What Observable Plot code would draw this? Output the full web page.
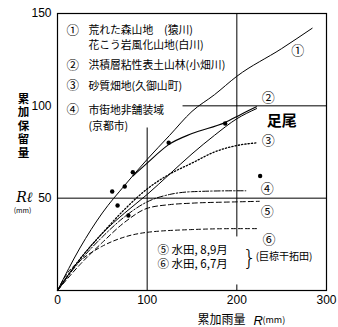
<!DOCTYPE html>
<html>
<head>
<meta charset="utf-8">
<script src="https://cdn.jsdelivr.net/npm/d3@7"></script>
<script src="https://cdn.jsdelivr.net/npm/@observablehq/plot@0.6"></script>
<style>
  html, body { margin: 0; padding: 0; background: white; }
</style>
</head>
<body>
<div id="chart"></div>
<script>
// ---- data ----
const xTicks = [0, 100, 200, 300];
const yTicks = [50, 100, 150];

// ①
const R1 = [0, 25, 50, 75, 100, 125, 150, 175, 200, 250, 284];
const L1 = [0, 23, 42, 57, 71, 84, 97, 106, 116, 131, 142];
// ② (upper, through points)
const R2a = [84, 100, 124, 150, 187, 205, 222];
const L2a = [62, 69, 79, 85, 91, 95.5, 99.5];
// ② (lower solid)
const R2b = [0, 25, 50, 75, 100, 125, 150, 175, 200, 222];
const L2b = [0, 17, 31, 42, 52, 63, 74, 84, 93, 98.5];
// ③ dotted
const R3 = [0, 25, 50, 75, 100, 125, 150, 175, 200, 223];
const L3 = [0, 17, 31, 44, 55, 63, 69, 75, 78.5, 80];
// ④ dash-dot
const R4 = [0, 25, 50, 75, 100, 125, 150, 200, 210];
const L4 = [0, 16, 29, 40, 48, 52, 53.5, 54, 54];
// ⑤ dashed
const R5 = [0, 25, 50, 75, 100, 125, 150, 200, 225];
const L5 = [0, 14, 26, 37, 44.5, 46.5, 47.3, 48, 48.3];
// ⑥ dashed
const R6 = [0, 12, 25, 50, 75, 100, 150, 200, 225];
const L6 = [0, 10, 16, 24, 29, 31.5, 33, 33.5, 33.5];

// observed points
const ptR = [61, 75, 67, 79, 84, 124, 187, 226];
const ptL = [53.6, 56.3, 46, 40.6, 64, 80, 90.4, 62];

// texts
const legendNums = ["①", "②", "③", "④"];
const legendTexts = ["荒れた森山地　(猿川)", "花こう岩風化山地(白川)", "洪積層粘性表土山林(小畑川)", "砂質畑地(久御山町)", "市街地非舗装域", "(京都市)"];
const curveNums = ["①", "②", "③", "④", "⑤", "⑥"];
const paddyTexts = ["⑤ 水田, 8,9月", "⑥ 水田, 6,7月"];
const paddyNote = "(巨椋干拓田)";
const authorNote = "足尾";
const yTitle = "累加保留量";
const ySym = "Rℓ";
const unit = "(mm)";
const xTitle = "累加雨量";
const xSym = "R";

// ---- build tables ----
const mk = (R, L) => R.map((r, i) => ({r, l: L[i]}));
const c1 = mk(R1, L1), c2a = mk(R2a, L2a), c2b = mk(R2b, L2b),
      c3 = mk(R3, L3), c4 = mk(R4, L4), c5 = mk(R5, L5), c6 = mk(R6, L6);
const pts = mk(ptR, ptL);

const legendNumPos = [[17, 140.6], [17, 121.8], [17, 110.5], [17, 97.5]];
const legendTextPos = [[34.5, 140.8], [34.5, 132.4], [34.5, 121.8], [34.5, 110.5], [34.5, 97.5], [34.5, 88.8]];
const curveNumPos = [[268, 130], [235, 104.5], [235, 81], [234, 55], [234, 42.5], [236, 27.6]];

const legN = legendNums.map((t, i) => ({t, x: legendNumPos[i][0], y: legendNumPos[i][1]}));
const legT = legendTexts.map((t, i) => ({t, x: legendTextPos[i][0], y: legendTextPos[i][1]}));
const curN = curveNums.map((t, i) => ({t, x: curveNumPos[i][0], y: curveNumPos[i][1]}));
const padT = paddyTexts.map((t, i) => ({t, x: 111.5, y: [21.8, 14][i]}));

const font = "'Noto Sans CJK JP', sans-serif";
const curve = "monotone-x";

const chart = Plot.plot({
  width: 338,
  height: 327,
  marginLeft: 57,
  marginRight: 12,
  marginTop: 13,
  marginBottom: 37,
  x: {domain: [0, 300]},
  y: {domain: [0, 150]},
  style: {fontFamily: font, background: "white", color: "black"},
  marks: [
    // guide lines
    Plot.ruleY([50], {x1: 0, x2: 300, stroke: "black", strokeWidth: 1}),
    Plot.ruleY([100], {x1: 140, x2: 300, stroke: "black", strokeWidth: 1}),
    Plot.ruleX([100], {y1: 0, y2: 88, stroke: "black", strokeWidth: 1}),
    Plot.ruleX([200], {y1: 29, y2: 150, stroke: "black", strokeWidth: 1}),
    Plot.ruleX([200], {y1: 0, y2: 3, stroke: "black", strokeWidth: 1}),
    Plot.frame({stroke: "black", strokeWidth: 1.2}),
    // curves
    Plot.line(c1, {x: "r", y: "l", curve, stroke: "black", strokeWidth: 1}),
    Plot.line(c2a, {x: "r", y: "l", curve, stroke: "black", strokeWidth: 1.1}),
    Plot.line(c2b, {x: "r", y: "l", curve, stroke: "black", strokeWidth: 1}),
    Plot.line(c3, {x: "r", y: "l", curve, stroke: "black", strokeWidth: 1.3, strokeDasharray: "1.3,2"}),
    Plot.line(c4, {x: "r", y: "l", curve, stroke: "black", strokeWidth: 1, strokeDasharray: "6,2,1.5,2"}),
    Plot.line(c5, {x: "r", y: "l", curve, stroke: "black", strokeWidth: 1, strokeDasharray: "5,3"}),
    Plot.line(c6, {x: "r", y: "l", curve, stroke: "black", strokeWidth: 1, strokeDasharray: "4,3"}),
    Plot.dot(pts, {x: "r", y: "l", r: 2.2, fill: "black", stroke: "none"}),
    // legend
    Plot.text(legN, {x: "x", y: "y", text: "t", fontSize: 12.5, textAnchor: "middle"}),
    Plot.text(legT, {x: "x", y: "y", text: "t", fontSize: 10.8, textAnchor: "start"}),
    // curve labels
    Plot.text(curN, {x: "x", y: "y", text: "t", fontSize: 13, textAnchor: "middle"}),
    Plot.text([authorNote], {x: 250, y: 91.5, text: d => d, fontSize: 15, fontWeight: "bold", textAnchor: "middle"}),
    Plot.text(padT, {x: "x", y: "y", text: "t", fontSize: 11.5, textAnchor: "start"}),
    Plot.text(["}"], {x: 214, y: 17.8, text: d => d, fontSize: 22, fontFamily: "DejaVu Sans", fontWeight: 200, textAnchor: "middle"}),
    Plot.text([paddyNote], {x: 221, y: 18.4, text: d => d, fontSize: 10, textAnchor: "start"}),
    // axes
    Plot.axisX({ticks: xTicks, tickSize: 0, tickPadding: 5, fontSize: 12, fontFamily: "Liberation Sans", label: null}),
    Plot.axisY({ticks: yTicks, tickSize: 0, tickPadding: 6, fontSize: 12, fontFamily: "Liberation Sans", label: null}),
    // axis titles
    Plot.text([yTitle], {x: -38, y: 91, text: d => d, fontSize: 11.5, fontWeight: "bold", textAnchor: "middle", className: "ytitle"}),
    Plot.text([ySym], {x: -37, y: 50.4, text: d => d, fontSize: 14, fontStyle: "italic", fontFamily: "DejaVu Serif", textAnchor: "middle"}),
    Plot.text([unit], {x: -39, y: 43, text: d => d, fontSize: 7, textAnchor: "middle"}),
    Plot.text([xTitle], {x: 156, y: -16.2, text: d => d, fontSize: 12, textAnchor: "start"}),
    Plot.text([xSym], {x: 218.6, y: -16.2, text: d => d, fontSize: 13, fontStyle: "italic", fontFamily: "Liberation Sans", textAnchor: "start"}),
    Plot.text([unit], {x: 228.6, y: -16.2, text: d => d, fontSize: 9, textAnchor: "start"})
  ]
});

// vertical writing for the y-axis title
d3.select(chart).selectAll("g.ytitle text")
  .attr("dy", null)
  .style("writing-mode", "vertical-rl")
  .style("text-orientation", "upright")
  .style("letter-spacing", "2px");

document.getElementById("chart").appendChild(chart);
</script>
</body>
</html>
